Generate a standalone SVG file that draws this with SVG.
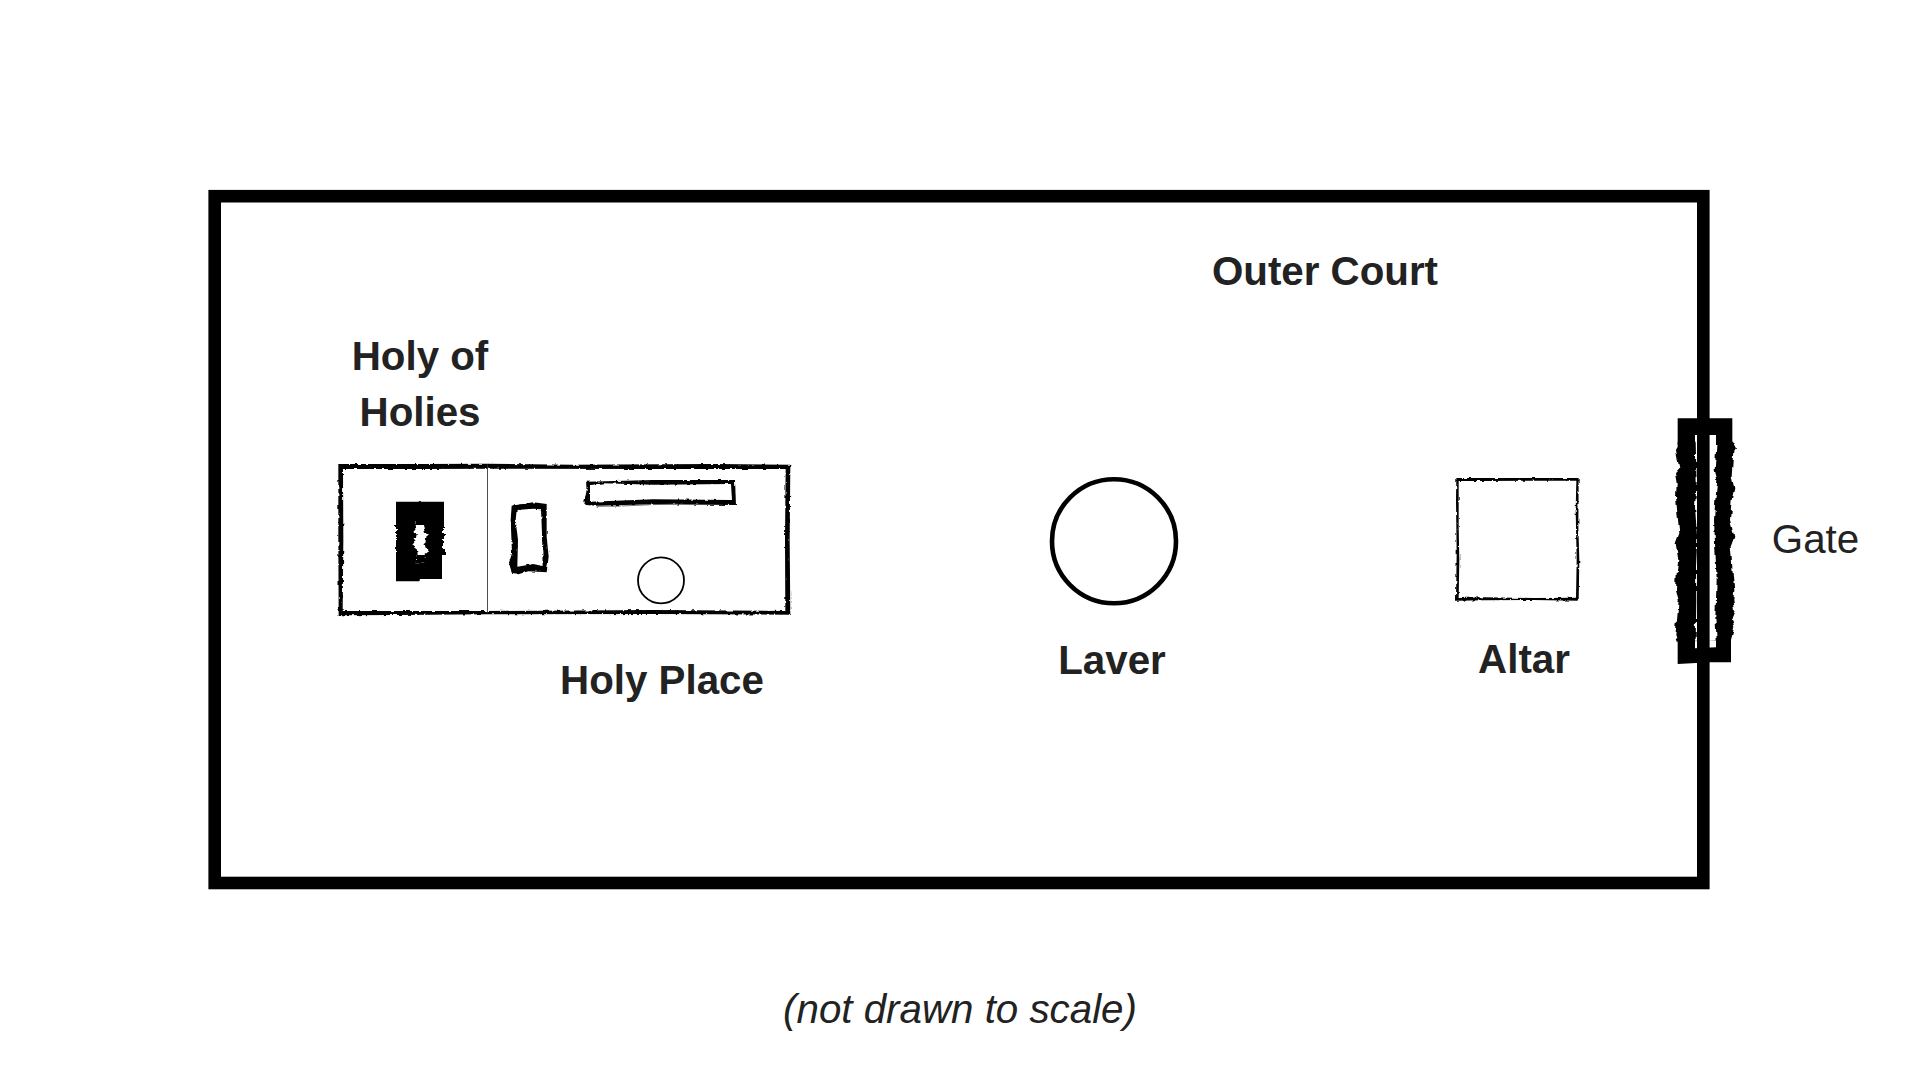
<svg xmlns="http://www.w3.org/2000/svg" width="1920" height="1080" viewBox="0 0 1920 1080">
<style>
text{font-family:"Liberation Sans",Arial,sans-serif;font-size:40.3px;fill:#222;text-anchor:middle}
.b{font-weight:700}
.ink{fill:#000;fill-rule:evenodd;stroke:none}
.line{fill:none;stroke:#000}
</style>
<defs>
<filter id="rough" x="-5%" y="-5%" width="110%" height="110%" color-interpolation-filters="sRGB">
<feTurbulence type="fractalNoise" baseFrequency="0.22" numOctaves="2" seed="4" result="n"/>
<feDisplacementMap in="SourceGraphic" in2="n" scale="3" xChannelSelector="R" yChannelSelector="G"/>
</filter>
<filter id="side" x="-25%" y="-5%" width="150%" height="110%" color-interpolation-filters="sRGB">
<feTurbulence type="fractalNoise" baseFrequency="0.01 0.28" numOctaves="3" seed="7"/>
<feColorMatrix type="matrix" values="1 0 0 0 0  0 0 0 0 .5  0 0 0 0 .5  0 0 0 0 1" result="n"/>
<feDisplacementMap in="SourceGraphic" in2="n" scale="9" xChannelSelector="R" yChannelSelector="G"/>
</filter>
<filter id="sidegate" x="-25%" y="-5%" width="150%" height="110%" color-interpolation-filters="sRGB">
<feTurbulence type="fractalNoise" baseFrequency="0.01 0.13" numOctaves="2" seed="11"/>
<feColorMatrix type="matrix" values="1 0 0 0 0  0 0 0 0 .5  0 0 0 0 .5  0 0 0 0 1" result="n"/>
<feDisplacementMap in="SourceGraphic" in2="n" scale="6" xChannelSelector="R" yChannelSelector="G"/>
</filter>
</defs>
<rect width="1920" height="1080" fill="#fff"/>
<g id="outer-court">
<rect class="line" x="214.7" y="196.2" width="1488.6" height="686.8" stroke-width="12.6"/>
<text class="b" x="1332" y="285" dx="-7">Outer Court</text>
</g>
<g id="gate">
<g filter="url(#sidegate)">
<path class="ink" transform="translate(1640 400) scale(.33333)" d="M113 125L277 125L277 130L285 145L280 152L275 230L283 265L275 300L270 360L283 410L272 440L275 470L278 520L283 570L280 600L285 630L275 655L283 680L273 720L113 725L106 705L112 650L116 600L108 572L110 520L115 480L107 430L118 400L112 340L108 290L110 250L105 220L118 205L113 180L108 150L113 140ZM167 125L230 125L224 210L232 240L226 300L222 360L226 450L230 540L226 650L230 722L167 722L169 600L168 500L172 420L165 320L170 250Z"/>
</g>
<path class="ink" transform="translate(1640 400) scale(.33333)" d="M113 55L277 55L277 135L228 135L228 105L165 105L165 135L113 135ZM113 715L165 715L165 745L228 742L228 715L273 715L273 787L210 787L113 792Z"/>
<text x="1815.5" y="552.5">Gate</text>
</g>
<g id="holy-house">
<g filter="url(#rough)">
<path class="ink" transform="translate(320 440) scale(.33333)" d="M55 72L300 72L502 71L760 74L1180 72L1411 74L1409 300L1411 524L1000 522L502 523L230 525L56 526L55 300ZM69 87L70 300L68 513L502 513L1000 510L1396 513L1395 300L1397 87L1000 87L502 86L300 87Z"/>
</g>
<g transform="translate(320 440) scale(.33333)">
<rect x="501" y="73" width="2.6" height="447" fill="#333"/>
</g>
<g id="ark" filter="url(#side)">
<path class="ink" transform="translate(320 440) scale(.33333)" d="M228 255L372 255L372 345L228 345ZM283 240L320 240L314 265L320 285L316 310L322 330L316 345L320 365L286 372L290 340L282 305L288 280L285 262Z"/>
</g>
<path class="ink" transform="translate(320 440) scale(.33333)" d="M228 185L295 185L300 182L304 185L372 185L372 262L312 262L318 240L285 240L288 262L228 262ZM228 340L290 340L287 372L318 365L314 340L366 340L366 417L300 417L298 424L228 424Z"/>
<g id="table" filter="url(#rough)">
<path class="ink" transform="translate(320 440) scale(.33333)" d="M575 197L640 187L680 192L680 290L686 350L680 397L625 394L595 403L575 398L567 368L576 340L572 240ZM590 210L640 206L663 208L666 280L668 378L640 372L592 380L594 300L587 240Z"/>
</g>
<g id="altar-of-incense" filter="url(#rough)">
<path class="ink" transform="translate(320 440) scale(.33333)" d="M798 125L1000 120L1245 120L1248 195L1000 193L830 197L797 195L793 185L800 150ZM810 135L850 130L1000 134L1233 132L1236 180L1000 178L810 185Z"/>
<path transform="translate(320 440) scale(.33333)" d="M830 199L905 198L1090 190" fill="none" stroke="#333" stroke-width="2"/>
</g>
<circle id="lampstand" class="line" cx="661" cy="580.4" r="23" stroke-width="1.8"/>
</g>
<g id="labels-holy">
<text class="b" x="420" y="369.5">Holy of</text>
<text class="b" x="420" y="425.5">Holies</text>
<text class="b" x="662" y="694">Holy Place</text>
</g>
<g id="laver">
<circle class="line" cx="1114" cy="541.2" r="62" stroke-width="4.6"/>
<text class="b" x="1112" y="673.5">Laver</text>
</g>
<g id="altar">
<g filter="url(#rough)">
<path class="ink" transform="translate(1450 460) scale(.33333)" d="M19 54L100 54L250 54L386 54L385 200L388 300L386 422L250 420L100 421L18 422L20 280L18 120ZM26 63L26 200L28 300L26 414L100 412L250 414L378 413L380 300L377 150L379 62L250 62L100 63Z"/>
</g>
<text class="b" x="1524" y="673">Altar</text>
</g>
<g id="note">
<text x="960" y="1023" font-style="italic">(not drawn to scale)</text>
</g>
</svg>
